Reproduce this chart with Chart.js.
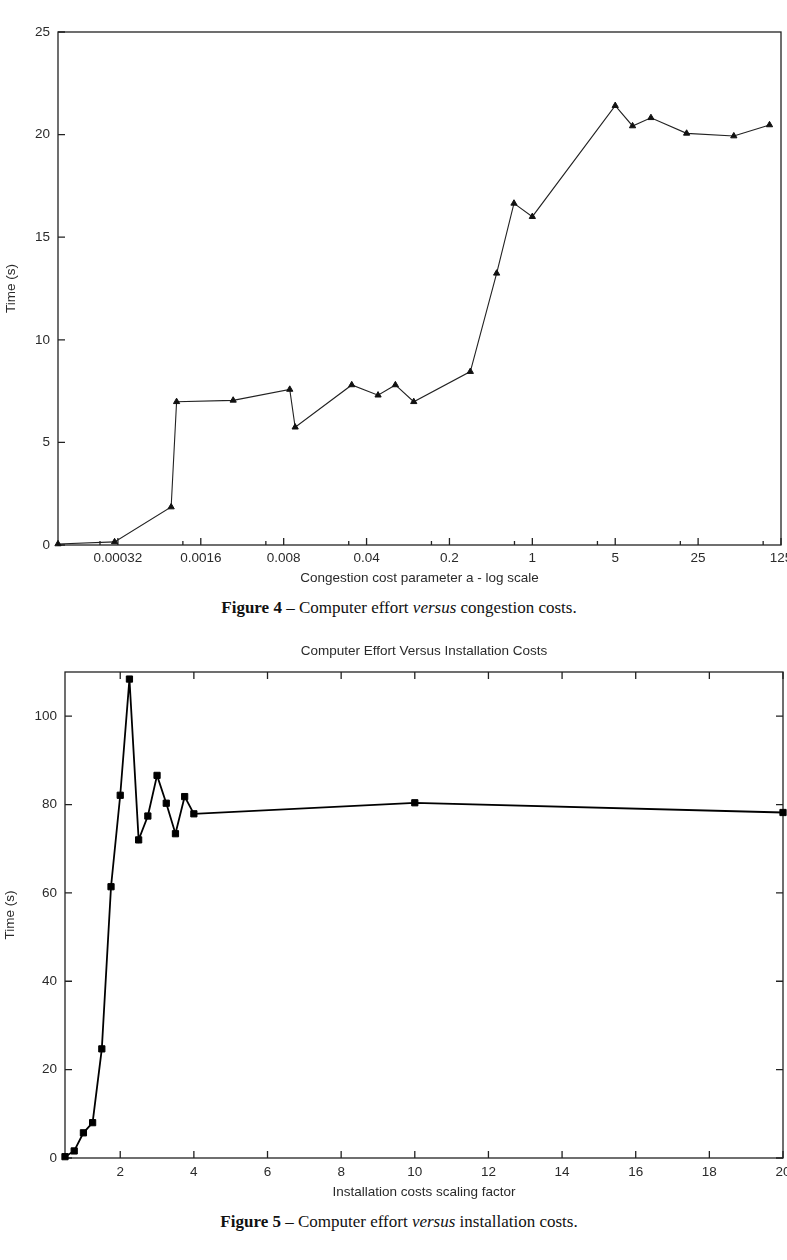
<!DOCTYPE html>
<html>
<head>
<meta charset="utf-8">
<script src="https://cdn.jsdelivr.net/npm/chart.js@4"></script>
<style>
  html, body { margin: 0; padding: 0; background: #fff; width: 787px; height: 1260px; overflow: hidden; }
  canvas { position: absolute; left: 0; }
  #congestionChart { top: 0; }
  #installChart { top: 628px; }
  .caption {
    position: absolute; left: 0; width: 798px; text-align: center;
    font-family: "Liberation Serif", "Times New Roman", serif; font-size: 17px;
    line-height: 20px; color: #111;
  }
  .caption b { font-weight: bold; }
</style>
</head>
<body>
<canvas id="congestionChart" width="800" height="592"></canvas>
<div class="caption" style="top:598px"><b>Figure 4</b> – Computer effort <i>versus</i> congestion costs.</div>
<canvas id="installChart" width="800" height="578"></canvas>
<div class="caption" style="top:1212px"><b>Figure 5</b> – Computer effort <i>versus</i> installation costs.</div>

<script>
// Figure 4: congestion cost parameter a (log scale) vs time
const congestionA = [0.0001, 0.0003, 0.0009, 0.001, 0.003, 0.009, 0.01, 0.03, 0.05, 0.07, 0.1,
  0.3, 0.5, 0.7, 1, 5, 7, 10, 20, 50, 100];
const congestionTime = [0.05, 0.15, 1.85, 6.98, 7.05, 7.58, 5.74, 7.8, 7.3, 7.8, 6.98,
  8.45, 13.24, 16.65, 16.0, 21.41, 20.42, 20.82, 20.06, 19.93, 20.47];
const congestionTicks = [0.00032, 0.0016, 0.008, 0.04, 0.2, 1, 5, 25, 125];
const congestionTickLabels = ['0.00032', '0.0016', '0.008', '0.04', '0.2', '1', '5', '25', '125'];
const congestionMinorTicks = [0.000226, 0.00113, 0.00566, 0.0283, 0.141, 0.707, 3.54, 17.7, 88.4];
const congestionTimeTicks = [0, 5, 10, 15, 20, 25];

// Figure 5: installation costs scaling factor vs time
const installFactor = [0.5, 0.75, 1, 1.25, 1.5, 1.75, 2, 2.25, 2.5, 2.75, 3, 3.25, 3.5, 3.75, 4, 10, 20];
const installTime = [0.3, 1.6, 5.7, 8.0, 24.7, 61.4, 82.1, 108.4, 72.0, 77.4, 86.6, 80.3, 73.4, 81.8, 77.9, 80.4, 78.2];
const installTicks = [2, 4, 6, 8, 10, 12, 14, 16, 18, 20];
const installTimeTicks = [0, 20, 40, 60, 80, 100];

const FONT = { family: '"Liberation Sans", Arial, Helvetica, sans-serif', size: 13.5 };
const TEXT = '#2a2a2a';

// box round the plot plus inward tick marks (gnuplot style)
const frameTicks = {
  id: 'frameTicks',
  beforeDatasetsDraw(chart, args, opts) {
    const { ctx, chartArea: a, scales: { x, y } } = chart;
    ctx.save();
    ctx.strokeStyle = '#222';
    ctx.lineWidth = 1.3;
    ctx.strokeRect(a.left, a.top, a.right - a.left, a.bottom - a.top);
    ctx.beginPath();
    const len = 7;
    x.ticks.forEach(t => {
      const px = x.getPixelForValue(t.value);
      ctx.moveTo(px, a.bottom); ctx.lineTo(px, a.bottom - len);
      if (opts.mirror) { ctx.moveTo(px, a.top); ctx.lineTo(px, a.top + len); }
    });
    y.ticks.forEach(t => {
      const py = y.getPixelForValue(t.value);
      ctx.moveTo(a.left, py); ctx.lineTo(a.left + len, py);
      if (opts.mirror) { ctx.moveTo(a.right, py); ctx.lineTo(a.right - len, py); }
    });
    (opts.minor || []).forEach(v => {
      const px = x.getPixelForValue(v);
      ctx.moveTo(px, a.bottom); ctx.lineTo(px, a.bottom - 4);
    });
    ctx.stroke();
    ctx.restore();
  }
};

function points(xs, ys) {
  return xs.map((v, i) => ({ x: v, y: ys[i] }));
}

function axisBase() {
  return {
    grid: { display: false, drawTicks: false },
    border: { display: false },
    ticks: { color: TEXT, font: FONT, autoSkip: false, maxRotation: 0 }
  };
}

function initializeCongestionChart() {
  const ctx = document.getElementById('congestionChart').getContext('2d');
  const xAxis = axisBase();
  const yAxis = axisBase();
  new Chart(ctx, {
    type: 'line',
    data: {
      datasets: [{
        data: points(congestionA, congestionTime),
        borderColor: '#222',
        borderWidth: 1.1,
        backgroundColor: '#111',
        pointStyle: 'triangle',
        pointRadius: 3.6,
        pointBorderWidth: 1,
        pointBorderColor: '#111',
        tension: 0,
        clip: false
      }]
    },
    plugins: [frameTicks],
    options: {
      responsive: false,
      animation: false,
      layout: { padding: { top: 32, right: 19, bottom: 0, left: 0 } },
      scales: {
        x: Object.assign(xAxis, {
          type: 'logarithmic',
          min: 0.0001,
          max: 125,
          afterBuildTicks: s => { s.ticks = congestionTicks.map(v => ({ value: v })); },
          afterFit: s => { s.height = 47; },
          ticks: Object.assign(xAxis.ticks, {
            padding: 5,
            callback: (v, i) => congestionTickLabels[i]
          }),
          title: {
            display: true, text: 'Congestion cost parameter a - log scale',
            color: TEXT, font: FONT, padding: { top: 0, bottom: 6 }
          }
        }),
        y: Object.assign(yAxis, {
          min: 0,
          max: 25,
          afterBuildTicks: s => { s.ticks = congestionTimeTicks.map(v => ({ value: v })); },
          afterFit: s => { s.width = 58; },
          ticks: Object.assign(yAxis.ticks, { padding: 8 }),
          title: {
            display: true, text: 'Time (s)',
            color: TEXT, font: FONT, padding: { top: 3, bottom: 0 }
          }
        })
      },
      plugins: {
        legend: { display: false },
        tooltip: { enabled: false },
        frameTicks: { mirror: false, minor: congestionMinorTicks }
      }
    }
  });
}

function initializeInstallChart() {
  const ctx = document.getElementById('installChart').getContext('2d');
  const xAxis = axisBase();
  const yAxis = axisBase();
  new Chart(ctx, {
    type: 'line',
    data: {
      datasets: [{
        data: points(installFactor, installTime),
        borderColor: '#000',
        borderWidth: 1.8,
        backgroundColor: '#000',
        pointStyle: 'rect',
        pointRadius: 4.4,
        pointBorderWidth: 1,
        pointBorderColor: '#000',
        tension: 0,
        clip: false
      }]
    },
    plugins: [frameTicks],
    options: {
      responsive: false,
      animation: false,
      layout: { padding: { top: 0, right: 17, bottom: 0, left: 0 } },
      scales: {
        x: Object.assign(xAxis, {
          type: 'linear',
          min: 0.5,
          max: 20,
          afterBuildTicks: s => { s.ticks = installTicks.map(v => ({ value: v })); },
          afterFit: s => { s.height = 48; },
          ticks: Object.assign(xAxis.ticks, { padding: 6, callback: v => String(v) }),
          title: {
            display: true, text: 'Installation costs scaling factor',
            color: TEXT, font: FONT, padding: { top: 0, bottom: 6 }
          }
        }),
        y: Object.assign(yAxis, {
          min: 0,
          max: 110,
          afterBuildTicks: s => { s.ticks = installTimeTicks.map(v => ({ value: v })); },
          afterFit: s => { s.width = 65; },
          ticks: Object.assign(yAxis.ticks, { padding: 8 }),
          title: {
            display: true, text: 'Time (s)',
            color: TEXT, font: FONT, padding: { top: 2, bottom: 0 }
          }
        })
      },
      plugins: {
        legend: { display: false },
        tooltip: { enabled: false },
        title: {
          display: true,
          fullSize: false,
          text: 'Computer Effort Versus Installation Costs',
          color: TEXT,
          font: Object.assign({}, FONT, { weight: 'normal' }),
          padding: { top: 14.9, bottom: 12.9 }
        },
        frameTicks: { mirror: true }
      }
    }
  });
}

initializeCongestionChart();
initializeInstallChart();
</script>
</body>
</html>
